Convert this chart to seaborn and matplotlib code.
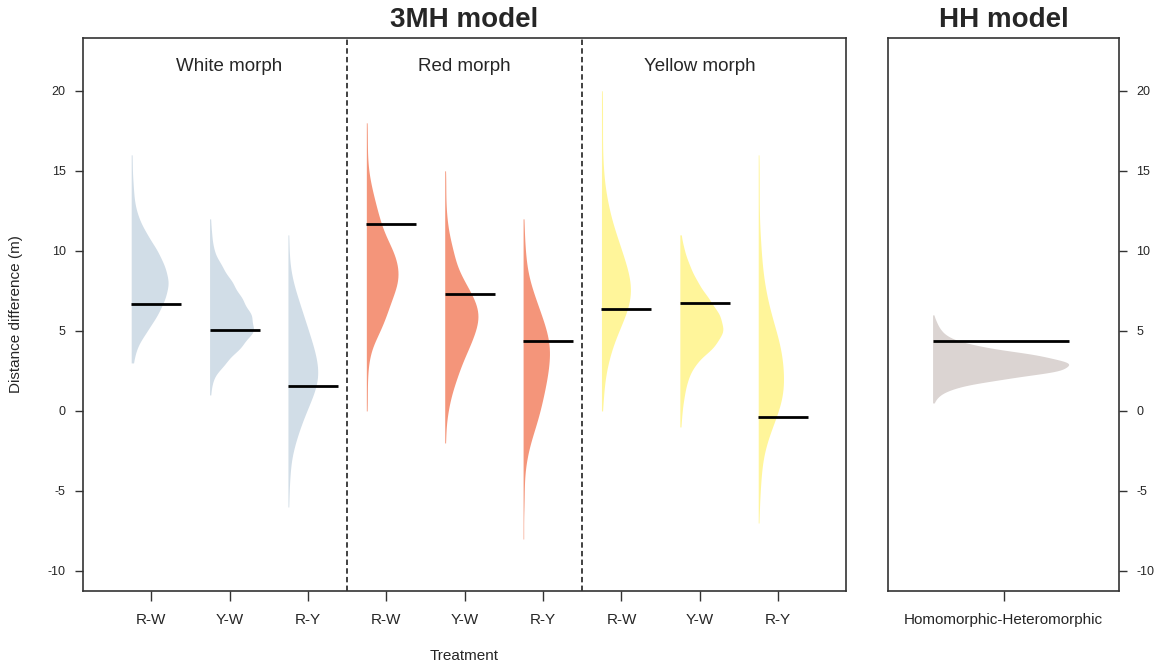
import numpy as np
import pandas as pd
import matplotlib
matplotlib.use("Agg")
import matplotlib.pyplot as plt
import seaborn as sns

# distance grid (m) on which the posterior density heights were read
distance_levels = [-9, -8, -7, -6, -5, -4, -3, -2, -1, 0, 1, 2, 3, 4, 5,
                   6, 7, 8, 9, 10, 11, 12, 13, 14, 15, 16, 17, 18, 19, 20]

treatments = ["R-W", "Y-W", "R-Y"]
morphs = ["White", "Red", "Yellow"]

# relative density heights on distance_levels (3MH model)
white_rw = [0, 0, 0, 0, 0, 0, 0, 0, 0, 0, 0, 0, 2, 5, 15, 25, 32, 36, 32, 25, 15, 7, 3, 2, 1, 1, 0, 0, 0, 0]
white_yw = [0, 0, 0, 0, 0, 0, 0, 0, 0, 0, 1, 3, 15, 30, 43, 40, 31, 22, 12, 4, 2, 1, 0, 0, 0, 0, 0, 0, 0, 0]
white_ry = [0, 0, 0, 1, 1, 2, 3, 7, 12, 18, 25, 30, 29, 25, 20, 15, 10, 5, 2, 1, 1, 0, 0, 0, 0, 0, 0, 0, 0, 0]
red_rw = [0, 0, 0, 0, 0, 0, 0, 0, 0, 1, 1, 1, 2, 5, 14, 20, 25, 32, 32, 27, 18, 13, 9, 5, 2, 1, 1, 1, 0, 0]
red_yw = [0, 0, 0, 0, 0, 0, 0, 1, 1, 3, 6, 11, 16, 23, 29, 33, 28, 19, 11, 8, 4, 2, 1, 1, 1, 0, 0, 0, 0, 0]
red_ry = [0, 1, 0, 1, 1, 1, 3, 6, 11, 15, 18, 21, 23, 24, 21, 16, 11, 6, 3, 2, 1, 1, 0, 0, 0, 0, 0, 0, 0, 0]
yellow_rw = [0, 0, 0, 0, 0, 0, 0, 0, 0, 1, 2, 3, 6, 10, 16, 23, 28, 28, 24, 19, 14, 9, 6, 3, 2, 1, 1, 1, 1, 1]
yellow_yw = [0, 0, 0, 0, 0, 0, 0, 0, 1, 2, 4, 7, 14, 31, 40, 36, 26, 16, 9, 4, 1, 0, 0, 0, 0, 0, 0, 0, 0, 0]
yellow_ry = [0, 0, 1, 1, 2, 3, 4, 8, 14, 21, 26, 26, 25, 23, 18, 13, 9, 6, 4, 3, 2, 1, 1, 1, 1, 1, 0, 0, 0, 0]

# HH model, finer grid
hh_levels = [0.5, 1.0, 1.5, 2.0, 2.5, 3.0, 3.5, 4.0, 4.5, 5.0, 5.5, 6.0]
hh_counts = [1, 6, 22, 66, 124, 133, 100, 45, 17, 8, 4, 1]

# posterior means
means_white = [6.67, 5.06, 1.58]
means_red = [11.67, 7.31, 4.37]
means_yellow = [6.39, 6.77, -0.35]
mean_hh = 4.35

morph_colors = {"White": "#d1dde7", "Red": "#f4957a", "Yellow": "#fff59a"}
hh_color = "#dbd4d2"

sns.set_style("ticks")
plt.rcParams["font.family"] = ["Liberation Sans", "DejaVu Sans"]
plt.rcParams["axes.unicode_minus"] = False
plt.rcParams["axes.edgecolor"] = "#333333"
plt.rcParams["axes.linewidth"] = 1.2

counts_by_morph = {"White": [white_rw, white_yw, white_ry],
                   "Red": [red_rw, red_yw, red_ry],
                   "Yellow": [yellow_rw, yellow_yw, yellow_ry]}
means_by_morph = {"White": means_white, "Red": means_red, "Yellow": means_yellow}

offset = 0.255     # half violins start a bit left of the tick
vio_width = 0.56   # widest half violin, in slot units
frames = []
mean_x, mean_y = [], []
for m_i, morph in enumerate(morphs):
    for t_i, counts in enumerate(counts_by_morph[morph]):
        slot = m_i * 3 + t_i + 1
        # seaborn draws this split half from (pos - width/2)
        frames.append(pd.DataFrame({"slot": slot - offset + vio_width / 2,
                                    "distance": np.repeat(distance_levels, counts),
                                    "morph": morph}))
        mean_x.append(slot - offset)
        mean_y.append(means_by_morph[morph][t_i])
df = pd.concat(frames, ignore_index=True)

# odd hue slots -> right half of the split violin
hue_order = ["_w", "White", "_r", "Red", "_y", "Yellow"]
palette = {"_w": "white", "_r": "white", "_y": "white", **morph_colors}

fig = plt.figure(figsize=(11.6, 6.69), dpi=100)
ax = fig.add_axes([83 / 1160, 1 - 591 / 669, 763 / 1160, 553 / 669])
ax2 = fig.add_axes([888 / 1160, 1 - 591 / 669, 231 / 1160, 553 / 669])

sns.violinplot(data=df, x="slot", y="distance", hue="morph", hue_order=hue_order,
               palette=palette, split=True, dodge=False, native_scale=True,
               inner=None, cut=0, bw_method=0.27, density_norm="area",
               common_norm=True, width=vio_width, saturation=1, linewidth=0,
               legend=False, orient="x", ax=ax)
mean_x = np.array(mean_x)
ax.hlines(mean_y, mean_x, mean_x + 0.637, color="black", lw=2, zorder=5)

for xv in (3.5, 6.5):
    ax.axvline(xv, color="#333333", lw=1.3, linestyle=(0, (3, 1.8)))

for m_i, morph in enumerate(morphs):
    ax.text(m_i * 3 + 2, 21.5, f"{morph} morph", ha="center", va="center", fontsize=13.5)

ax.set_xlim(0.13, 9.865)
ax.set_ylim(-11.25, 23.3)
ax.set_xticks(range(1, 10))
ax.set_xticklabels(treatments * 3, fontsize=11)
ax.set_yticks([-10, -5, 0, 5, 10, 15, 20])
ax.tick_params(axis="y", labelsize=9, length=6, pad=6.5, width=1, color="#333333")
ax.tick_params(axis="x", length=7, pad=9, width=1, color="#333333")
ax.set_xlabel("Treatment", fontsize=11)
ax.set_ylabel("Distance difference (m)", fontsize=11)
ax.xaxis.set_label_coords(0.5, -0.105)
ax.yaxis.set_label_coords(-0.078, 0.5)

# HH model panel
hh_left, hh_width = -0.307, 0.589
df_hh = pd.DataFrame({"slot": hh_left + hh_width / 2,
                      "distance": np.repeat(hh_levels, hh_counts), "model": "HH"})
sns.violinplot(data=df_hh, x="slot", y="distance", hue="model", hue_order=["_", "HH"],
               palette={"_": "white", "HH": hh_color}, split=True, dodge=False,
               native_scale=True, inner=None, cut=0, bw_method=0.35,
               density_norm="area", width=hh_width, saturation=1, linewidth=0,
               legend=False, orient="x", ax=ax2)
ax2.hlines(mean_hh, hh_left, hh_left + hh_width, color="black", lw=2, zorder=5)
ax2.set_xlim(-0.5, 0.5)
ax2.set_ylim(-11.25, 23.3)
ax2.set_xticks([0])
ax2.set_xticklabels(["Homomorphic-Heteromorphic"], fontsize=11)
ax2.yaxis.tick_right()
ax2.set_yticks([-10, -5, 0, 5, 10, 15, 20])
ax2.tick_params(axis="y", labelsize=9, length=6, pad=6.5, width=1, color="#333333")
ax2.tick_params(axis="x", length=7, pad=9, width=1, color="#333333")
ax2.set_xlabel("")
ax2.set_ylabel("")

fig.text(464.5 / 1160, 1 - 20 / 669, "3MH model", ha="center", va="center",
         fontsize=20, fontweight="bold")
fig.text(1003.5 / 1160, 1 - 20 / 669, "HH model", ha="center", va="center",
         fontsize=20, fontweight="bold")

fig.savefig("out.png", dpi=100)
